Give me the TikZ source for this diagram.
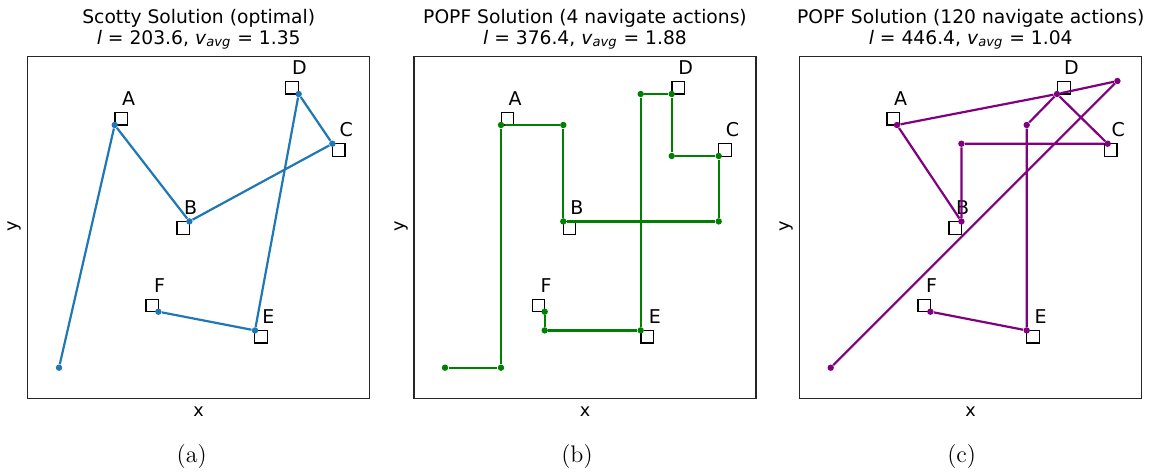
\documentclass[tikz,border=0pt]{standalone}
\usepackage{fontspec}
\usepackage{tikz}
\usetikzlibrary{positioning}
\newfontfamily\mpl{DejaVu Sans}
\definecolor{tabblue}{HTML}{1F77B4}
\definecolor{popfgreen}{HTML}{008000}
\definecolor{popfpurple}{HTML}{800080}

\begin{document}
\begin{tikzpicture}[x=0.5pt,y=-0.5pt,
                    frame/.style={draw=black!85,line width=0.7pt,minimum size=171pt,inner sep=0pt},
                    wp/.style={draw,line width=0.65pt,minimum size=6.2pt,inner sep=0pt},
                    tag/.style={font=\mpl\fontsize{9.5}{11}\selectfont,anchor=base,inner sep=0pt},
                    head/.style={font=\mpl\fontsize{9.35}{11}\selectfont,anchor=base,inner sep=0pt},
                    axis/.style={font=\mpl\fontsize{8.8}{10}\selectfont,inner sep=0pt},
                    subcap/.style={font=\fontsize{12}{14}\selectfont,inner sep=0pt},
                    dot/.style={circle,fill,inner sep=0pt,minimum size=3.2pt},
                    route/.style={line width=1.1pt,line join=round}]

\useasboundingbox (0,0) rectangle (1153,472);

% (a) Scotty
\begin{scope}[shift={(27.7,56.7)}]
\node[frame] (aBox) at (171,171) {};
\node[head] (aT1) at (171,-33.4) {Scotty Solution (optimal)};
\node[head] (aT2) at (171,-12.7) {\textit{l} = 203.6, \textit{v}\textsubscript{\textit{avg}} = 1.35};
\node[axis] (aX) at (171,355.3) {x};
\node[axis,rotate=90] (aY) at (-12.7,170) {y};
\node[subcap] (aCap) at (164,400.3) {(a)};

\node[wp] (aA) at (93.5,62) {};
\node[wp] (aB) at (155.5,171.3) {};
\node[wp] (aC) at (311,93.3) {};
\node[wp] (aD) at (264.3,31) {};
\node[wp] (aE) at (233.3,280) {};
\node[wp] (aF) at (124.5,248.7) {};
\node[tag] (aAt) at ([shift={(7.5,-13.2)}]aA) {A};
\node[tag] (aBt) at ([shift={(7.5,-13.2)}]aB) {B};
\node[tag] (aCt) at ([shift={(7.5,-13.2)}]aC) {C};
\node[tag] (aDt) at ([shift={(7.5,-13.2)}]aD) {D};
\node[tag] (aEt) at ([shift={(7.5,-13.2)}]aE) {E};
\node[tag] (aFt) at ([shift={(7.5,-13.2)}]aF) {F};

\node[dot,tabblue] (a0) at (31.3,311) {};
\node[dot,tabblue] (a1) at (87,68.3) {};
\node[dot,tabblue] (a2) at (161.7,164.7) {};
\node[dot,tabblue] (a3) at (304.7,87) {};
\node[dot,tabblue] (a4) at (271,37.3) {};
\node[dot,tabblue] (a5) at (227.3,273.7) {};
\node[dot,tabblue] (a6) at (130.7,255) {};
\draw[route,tabblue] (a0) -- (a1) -- (a2) -- (a3) -- (a4) -- (a5) -- (a6);
\end{scope}

% (b) POPF, 4 navigate actions
\begin{scope}[shift={(414,56.7)}]
\node[frame] (bBox) at (171,171) {};
\node[head] (bT1) at (171,-33.4) {POPF Solution (4 navigate actions)};
\node[head] (bT2) at (171,-12.7) {\textit{l} = 376.4, \textit{v}\textsubscript{\textit{avg}} = 1.88};
\node[axis] (bX) at (171,355.3) {x};
\node[axis,rotate=90] (bY) at (-12.7,170) {y};
\node[subcap] (bCap) at (163,400.3) {(b)};

\node[wp] (bA) at (93.5,62) {};
\node[wp] (bB) at (155.5,171.3) {};
\node[wp] (bC) at (311,93.3) {};
\node[wp] (bD) at (264.3,31) {};
\node[wp] (bE) at (233.3,280) {};
\node[wp] (bF) at (124.5,248.7) {};
\node[tag] (bAt) at ([shift={(7.5,-13.2)}]bA) {A};
\node[tag] (bBt) at ([shift={(7.5,-13.2)}]bB) {B};
\node[tag] (bCt) at ([shift={(7.5,-13.2)}]bC) {C};
\node[tag] (bDt) at ([shift={(7.5,-13.2)}]bD) {D};
\node[tag] (bEt) at ([shift={(7.5,-13.2)}]bE) {E};
\node[tag] (bFt) at ([shift={(7.5,-13.2)}]bF) {F};

\node[dot,popfgreen] (b0) at (31,311) {};
\node[dot,popfgreen] (b1) at (87,311) {};
\node[dot,popfgreen] (b2) at (87,68.3) {};
\node[dot,popfgreen] (b3) at (149.3,68.3) {};
\node[dot,popfgreen] (b4) at (149.3,164.7) {};
\node[dot,popfgreen] (b5) at (304.7,164.7) {};
\node[dot,popfgreen] (b6) at (304.7,99.3) {};
\node[dot,popfgreen] (b7) at (257.7,99.3) {};
\node[dot,popfgreen] (b8) at (257.7,37.3) {};
\node[dot,popfgreen] (b9) at (226.7,37.3) {};
\node[dot,popfgreen] (b10) at (226.7,273.7) {};
\node[dot,popfgreen] (b11) at (130.7,273.7) {};
\node[dot,popfgreen] (b12) at (130.7,255) {};
\draw[route,popfgreen] (b0) -- (b1) -- (b2) -- (b3) -- (b4) -- (b5) -- (b6)
    -- (b7) -- (b8) -- (b9) -- (b10) -- (b11) -- (b12);
\end{scope}

% (c) POPF, 120 navigate actions
\begin{scope}[shift={(799.7,56.7)}]
\node[frame] (cBox) at (171,171) {};
\node[head] (cT1) at (171,-33.4) {POPF Solution (120 navigate actions)};
\node[head] (cT2) at (171,-12.7) {\textit{l} = 446.4, \textit{v}\textsubscript{\textit{avg}} = 1.04};
\node[axis] (cX) at (171,355.3) {x};
\node[axis,rotate=90] (cY) at (-12.7,170) {y};
\node[subcap] (cCap) at (162,400.3) {(c)};

\node[wp] (cA) at (93.5,62) {};
\node[wp] (cB) at (155.5,171.3) {};
\node[wp] (cC) at (311,93.3) {};
\node[wp] (cD) at (264.3,31) {};
\node[wp] (cE) at (233.3,280) {};
\node[wp] (cF) at (124.5,248.7) {};
\node[tag] (cAt) at ([shift={(7.5,-13.2)}]cA) {A};
\node[tag] (cBt) at ([shift={(7.5,-13.2)}]cB) {B};
\node[tag] (cCt) at ([shift={(7.5,-13.2)}]cC) {C};
\node[tag] (cDt) at ([shift={(7.5,-13.2)}]cD) {D};
\node[tag] (cEt) at ([shift={(7.5,-13.2)}]cE) {E};
\node[tag] (cFt) at ([shift={(7.5,-13.2)}]cF) {F};

\node[dot,popfpurple] (c0) at (31,311) {};
\node[dot,popfpurple] (c1) at (317.7,24.3) {};
\node[dot,popfpurple] (c2) at (257.3,37.3) {};
\node[dot,popfpurple] (c3) at (97.3,68.3) {};
\node[dot,popfpurple] (c4) at (161.7,164.7) {};
\node[dot,popfpurple] (c5) at (161.7,87) {};
\node[dot,popfpurple] (c6) at (308,87) {};
\node[dot,popfpurple] (c7) at (227,68.3) {};
\node[dot,popfpurple] (c8) at (227,273.7) {};
\node[dot,popfpurple] (c9) at (130.7,255) {};
\draw[route,popfpurple] (c0) -- (c1) -- (c2) -- (c3) -- (c4) -- (c5) -- (c6)
    -- (c2) -- (c7) -- (c8) -- (c9);
\end{scope}
\end{tikzpicture}
\end{document}
